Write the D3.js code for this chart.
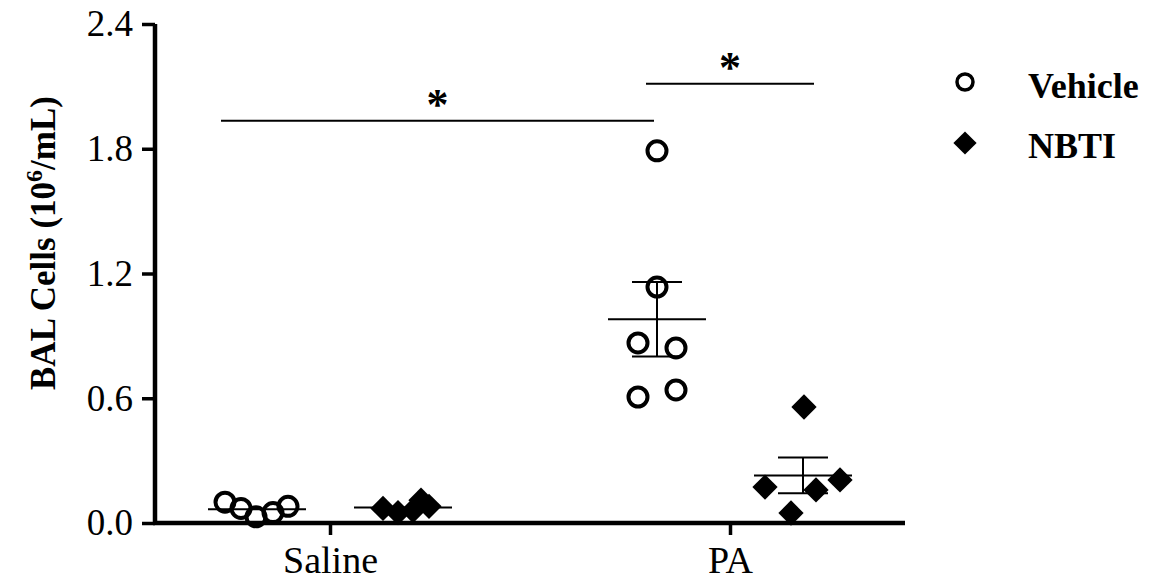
<!DOCTYPE html>
<html>
<head>
<meta charset="utf-8">
<script src="https://cdn.jsdelivr.net/npm/d3@7"></script>
<style>
  body { margin: 0; background: #fff; }
  text { font-family: "Liberation Serif", "Times New Roman", serif; fill: #000; }
</style>
</head>
<body>
<script>
// groups and treatments
var groups = ['Saline', 'PA'];
var treatments = ['Vehicle', 'NBTI'];

// individual points, 10^6/mL
var salineVehicle = [0.10, 0.07, 0.03, 0.05, 0.08];
var salineNBTI = [0.07, 0.05, 0.06, 0.11, 0.08];
var paVehicle = [1.79, 1.135, 0.866, 0.842, 0.606, 0.64];
var paNBTI = [0.558, 0.173, 0.159, 0.207, 0.048];

// horizontal scatter of each point (px)
var salineVehicleJit = [-32, -16, -1, 16, 31];
var salineNBTIJit = [-20, -5, 10, 18, 26];
var paVehicleJit = [0, 0, -19, 19, -19, 19];
var paNBTIJit = [1, -38, 13, 37, -12];

var yTicks = [0, 0.6, 1.2, 1.8, 2.4];

var sets = [
  { group: 'Saline', trt: 'Vehicle', vals: salineVehicle, jit: salineVehicleJit },
  { group: 'Saline', trt: 'NBTI', vals: salineNBTI, jit: salineNBTIJit },
  { group: 'PA', trt: 'Vehicle', vals: paVehicle, jit: paVehicleJit },
  { group: 'PA', trt: 'NBTI', vals: paNBTI, jit: paNBTIJit }
];

var W = 1164, H = 588;
var svg = d3.select('body').append('svg')
  .attr('width', W)
  .attr('height', H);

var x = d3.scalePoint().domain(groups).range([155, 905]).padding(0.4375);
var sub = d3.scalePoint().domain(treatments).range([-73, 73]);
var y = d3.scaleLinear().domain([0, 2.4]).range([523, 24]);

function cx(g, t) { return x(g) + sub(t); }

// axes
var yAxis = svg.append('g')
  .attr('transform', 'translate(155,0)')
  .call(d3.axisLeft(y).tickValues(yTicks).tickFormat(d3.format('.1f')).tickSize(13).tickPadding(9));
var xAxis = svg.append('g')
  .attr('transform', 'translate(0,523)')
  .call(d3.axisBottom(x).tickSize(12).tickPadding(4));

[yAxis, xAxis].forEach(function (a) {
  a.select('.domain').attr('stroke', '#000').attr('stroke-width', 4.5);
  a.selectAll('.tick line').attr('stroke', '#000').attr('stroke-width', 3.5);
  a.selectAll('.tick text').attr('fill', '#000')
    .style('font-size', '37px')
    .style('font-family', '"Liberation Serif", "Times New Roman", serif');
});
yAxis.select('.domain').attr('d', 'M0,' + y(2.4) + 'V' + (y(0) + 2));
xAxis.select('.domain').attr('d', 'M153,0H905');
xAxis.selectAll('.tick text').style('font-size', '38px').attr('dy', '0.9em');

// y label
var ylab = svg.append('text')
  .attr('transform', 'translate(55,243) rotate(-90)')
  .attr('text-anchor', 'middle')
  .style('font-size', '35px')
  .style('font-weight', 'bold');
ylab.append('tspan').text('BAL Cells (10');
ylab.append('tspan').attr('dy', -13).style('font-size', '24px').text('6');
ylab.append('tspan').attr('dy', 13).text('/mL)');

// mean and sem lines
sets.forEach(function (s) {
  var c = cx(s.group, s.trt);
  var m = d3.mean(s.vals);
  var sem = d3.deviation(s.vals) / Math.sqrt(s.vals.length);
  var g = svg.append('g').attr('stroke', '#000').attr('stroke-width', 2);
  g.append('line').attr('x1', c - 49).attr('x2', c + 49).attr('y1', y(m)).attr('y2', y(m));
  if (s.group === 'PA') {
    g.append('line').attr('x1', c).attr('x2', c).attr('y1', y(m + sem)).attr('y2', y(m - sem));
    g.append('line').attr('x1', c - 25).attr('x2', c + 25).attr('y1', y(m + sem)).attr('y2', y(m + sem));
    g.append('line').attr('x1', c - 25).attr('x2', c + 25).attr('y1', y(m - sem)).attr('y2', y(m - sem));
  }
});

var diamond = d3.symbol().type(d3.symbolSquare).size(320);

// points
sets.forEach(function (s) {
  var c = cx(s.group, s.trt);
  var pts = svg.append('g').selectAll('.pt').data(s.vals).enter();
  if (s.trt === 'Vehicle') {
    pts.append('circle')
      .attr('cx', function (d, i) { return c + s.jit[i]; })
      .attr('cy', function (d) { return y(d); })
      .attr('r', 9.5)
      .attr('fill', 'none')
      .attr('stroke', '#000')
      .attr('stroke-width', 4);
  } else {
    pts.append('path')
      .attr('d', diamond)
      .attr('transform', function (d, i) {
        return 'translate(' + (c + s.jit[i]) + ',' + y(d) + ') rotate(45)';
      })
      .attr('fill', '#000');
  }
});

// significance bars
var sig = [
  { x1: cx('Saline', 'Vehicle') - 36, x2: cx('PA', 'Vehicle') - 3, v: 1.935 },
  { x1: cx('PA', 'Vehicle') - 11, x2: cx('PA', 'NBTI') + 11, v: 2.113 }
];
sig.forEach(function (s) {
  svg.append('line')
    .attr('x1', s.x1).attr('x2', s.x2)
    .attr('y1', y(s.v)).attr('y2', y(s.v))
    .attr('stroke', '#000').attr('stroke-width', 2);
  svg.append('text')
    .attr('x', (s.x1 + s.x2) / 2)
    .attr('y', y(s.v) - 2)
    .attr('text-anchor', 'middle')
    .style('font-size', '44px')
    .style('font-weight', 'bold')
    .text('*');
});

// legend
var legend = svg.append('g').attr('transform', 'translate(965,0)');
legend.append('circle').attr('cx', 0).attr('cy', 82).attr('r', 8)
  .attr('fill', 'none').attr('stroke', '#000').attr('stroke-width', 3.5);
legend.append('path').attr('d', d3.symbol().type(d3.symbolSquare).size(270))
  .attr('transform', 'translate(0,143) rotate(45)').attr('fill', '#000');
legend.selectAll('.lt').data(treatments).enter().append('text')
  .attr('x', 63)
  .attr('y', function (d, i) { return 98 + i * 60; })
  .style('font-size', '36px')
  .style('font-weight', 'bold')
  .text(function (d) { return d; });
</script>
</body>
</html>
